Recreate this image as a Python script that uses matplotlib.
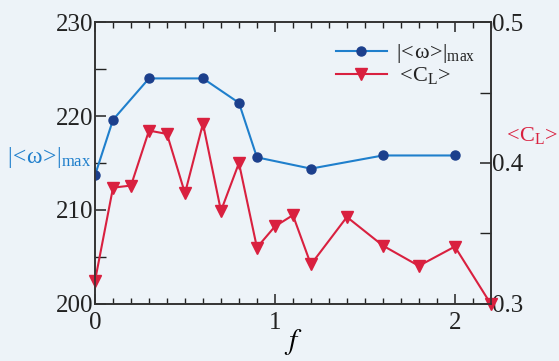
import matplotlib
matplotlib.use("Agg")
import matplotlib.pyplot as plt
from matplotlib.ticker import MultipleLocator, FuncFormatter

f_omega = [0.0, 0.1, 0.3, 0.6, 0.8, 0.9, 1.2, 1.6, 2.0]
omega_max = [213.7, 219.6, 224.0, 224.0, 221.4, 215.6, 214.4, 215.8, 215.8]

f_cl = [0.0, 0.1, 0.2, 0.3, 0.4, 0.5, 0.6, 0.7, 0.8, 0.9, 1.0, 1.1, 1.2, 1.4, 1.6, 1.8, 2.0, 2.2]
cl = [0.3165, 0.3825, 0.384, 0.423, 0.4206, 0.3785, 0.428, 0.366, 0.400, 0.340,
      0.355, 0.363, 0.328, 0.3617, 0.3414, 0.327, 0.3407, 0.300]

plt.rcParams['font.family'] = ['Liberation Serif', 'DejaVu Serif']
plt.rcParams['mathtext.fontset'] = 'custom'
plt.rcParams['mathtext.rm'] = 'Liberation Serif'
plt.rcParams['mathtext.it'] = 'Liberation Serif:italic'
plt.rcParams['mathtext.bf'] = 'Liberation Serif:bold'

BG = '#edf3f8'
BLUE = '#1f7fcc'
NAVY = '#1c3f8c'
RED = '#d9203f'

OMEGA_LABEL = r'$\mathrm{|\!<\!ω\!>\!|}_{\mathrm{max}}$'
CL_LABEL = r'$\mathrm{<\!C}_{\mathrm{L}}\mathrm{\!>}$'

fig = plt.figure(figsize=(5.59, 3.61), dpi=100, facecolor=BG)
ax = fig.add_axes([0.170, 0.158, 0.708, 0.781], facecolor=BG)
ax2 = ax.twinx()

l1, = ax.plot(f_omega, omega_max, '-', color=BLUE, lw=1.5, marker='o', ms=6.5,
              mfc=NAVY, mec=NAVY, label=OMEGA_LABEL, zorder=3)
l2, = ax2.plot(f_cl, cl, '-', color=RED, lw=1.5, marker='v', ms=8,
               mfc=RED, mec=RED, label=CL_LABEL, clip_on=False)

ax.set_xlim(0, 2.2)
ax.set_ylim(200, 230)
ax2.set_ylim(0.3, 0.5)

ax.xaxis.set_major_locator(MultipleLocator(1))
ax.xaxis.set_minor_locator(MultipleLocator(0.1))
ax.yaxis.set_major_locator(MultipleLocator(10))
ax.yaxis.set_minor_locator(MultipleLocator(5))
ax2.yaxis.set_major_locator(MultipleLocator(0.1))
ax2.yaxis.set_minor_locator(MultipleLocator(0.05))
ax2.yaxis.set_major_formatter(FuncFormatter(lambda v, p: f'{v:.1f}'))

for a in (ax, ax2):
    for s in a.spines.values():
        s.set_color('#333333')
        s.set_linewidth(1.2)

ax.tick_params(axis='x', which='both', direction='in', top=True, labelsize=18, pad=6, colors='#222222')
ax.tick_params(axis='x', which='major', length=7, width=1.1)
ax.tick_params(axis='x', which='minor', length=4, width=1.0)
ax.tick_params(axis='y', which='both', direction='in', right=False, labelsize=18, pad=1, colors='#222222')
ax.tick_params(axis='y', which='major', length=8, width=1.1)
ax.tick_params(axis='y', which='minor', length=8, width=1.0)
ax2.tick_params(axis='y', which='both', direction='in', labelsize=18, pad=1, colors='#222222')
ax2.tick_params(axis='y', which='major', length=8, width=1.1)
ax2.tick_params(axis='y', which='minor', length=8, width=1.0)

ax.set_xlabel(r'$f$', fontsize=21, math_fontfamily='stix', labelpad=-5)

fig.text(0.012, 0.565, OMEGA_LABEL, color=BLUE, fontsize=17,
         ha='left', va='center')
fig.text(0.900, 0.625, CL_LABEL, color=RED, fontsize=16,
         ha='left', va='center')

leg = ax.legend(handles=[l1, l2], loc='upper right', bbox_to_anchor=(0.995, 0.975),
                frameon=False, fontsize=16, handlelength=2.3, handletextpad=0.4,
                labelspacing=0.0, borderaxespad=0.2)
for t in leg.get_texts():
    t.set_color('#222222')

fig.savefig('out.png', dpi=100, facecolor=BG)
